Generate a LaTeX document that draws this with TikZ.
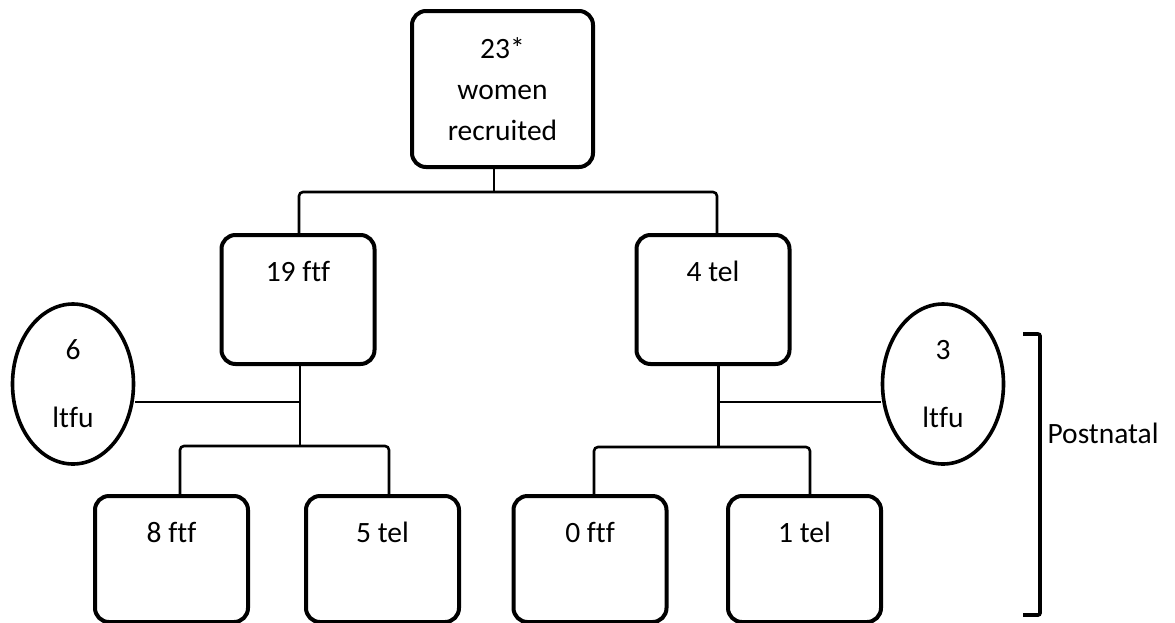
\documentclass[tikz,border=0pt]{standalone}
\usepackage{fontspec}
\setmainfont{Carlito}[Ligatures=NoCommon]
\usetikzlibrary{positioning,shapes.geometric}

\begin{document}
\begin{tikzpicture}[x=1pt,y=-1pt]
\tikzset{
card/.style={
  draw,
  line width=4pt,
  rounded corners=14pt,
  inner sep=0pt,
  font=\fontsize{29.5}{34}\selectfont
  },
box/.style={
  card,
  minimum width=153pt,
  text height=46pt,
  text depth=83pt,
  anchor=north
  },
leaf/.style={
  box,
  text depth=80pt
  },
lost/.style={
  draw,
  ellipse,
  line width=3.6pt,
  minimum width=121pt,
  minimum height=160pt,
  inner sep=0pt,
  align=center,
  font=\fontsize{29.5}{68}\selectfont
  },
link/.style={line width=2.6pt, rounded corners=4pt},
bracket/.style={line width=3.6pt, rounded corners=2pt}
}

\useasboundingbox (0,0) rectangle (1175,622);

\node[card, minimum width=181pt, minimum height=156pt, align=center,
      font=\fontsize{29.5}{41}\selectfont] (recruit) at (502.5,89)
      {23*\\women\\recruited};

\node[box] (ftf19) at (298,233) {19 ftf};
\node[box] (tel4)  at (713,233) {4 tel};

\node[leaf] (ftf8) at (171.5,494) {8 ftf};
\node[leaf] (tel5) at (382.5,494) {5 tel};
\node[leaf] (ftf0) at (590,494)   {0 ftf};
\node[leaf] (tel1) at (804.5,494) {1 tel};

\node[lost] (ltfuA) at (73,384)  {6\\ltfu};
\node[lost] (ltfuB) at (943,384) {3\\ltfu};

% first split
\coordinate (splitA) at (494,192);
\draw[link] (splitA |- recruit.south) -- (splitA);
\draw[link] ([xshift=1pt]ftf19.north) |- (splitA) -| ([xshift=4pt]tel4.north);

% face to face branch
\coordinate (splitB) at (300,446);
\coordinate (jointB) at (300,402);
\draw[link] (splitB |- ftf19.south) -- (splitB);
\draw[link] (jointB) -- (jointB -| ltfuA.east);
\draw[link] ([xshift=8.5pt]ftf8.north) |- (splitB) -| ([xshift=6.5pt]tel5.north);

% telephone branch
\coordinate (splitC) at (718.5,447);
\coordinate (jointC) at (718.5,402);
\draw[link] (splitC |- tel4.south) -- (splitC);
\draw[link] (jointC) -- (jointC -| ltfuB.west);
\draw[link] ([xshift=4pt]ftf0.north) |- (splitC) -| ([xshift=5.5pt]tel1.north);

% postnatal bracket
\coordinate (brTop) at (1040,334);
\coordinate (brBot) at (1040,615);
\coordinate (brMid) at (1040,433);
\draw[bracket] ([xshift=-17pt]brTop) -- (brTop) -- (brBot) -- ([xshift=-17pt]brBot);
\node[right=4pt of brMid, font=\fontsize{29.5}{34}\selectfont] (postnatal) {Postnatal};

\end{tikzpicture}
\end{document}
